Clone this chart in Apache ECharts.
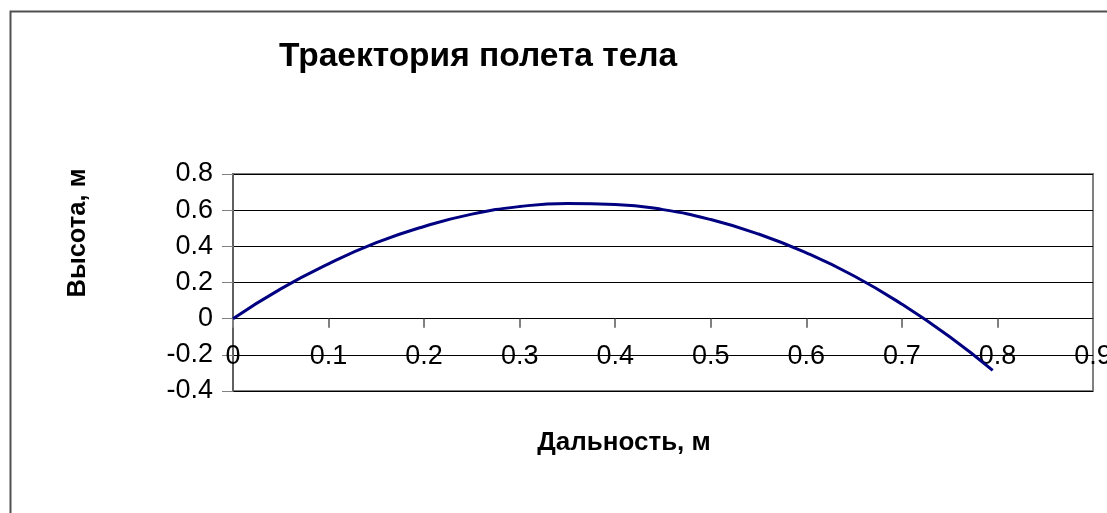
<!DOCTYPE html>
<html>
<head>
<meta charset="utf-8">
<script src="https://cdn.jsdelivr.net/npm/echarts@6/dist/echarts.min.js"></script>
<style>
html,body{margin:0;padding:0;background:#fff;}
#chart{width:1107px;height:513px;}
</style>
</head>
<body>
<div id="chart"></div>
<script>
var titleText = 'Траектория полета тела';
var xName = 'Дальность, м';
var yName = 'Высота, м';
var distance = [0, 0.05, 0.1, 0.15, 0.2, 0.25, 0.3, 0.35, 0.4, 0.45, 0.5, 0.55, 0.6, 0.65, 0.7, 0.75, 0.795];
var height = [0, 0.165, 0.303, 0.42, 0.51, 0.578, 0.62, 0.637, 0.632, 0.603, 0.548, 0.468, 0.364, 0.236, 0.08, -0.1, -0.286];
var xTicks = {min: 0, max: 0.9, interval: 0.1};
var yTicks = {min: -0.4, max: 0.8, interval: 0.2};

var FONT = '"Liberation Sans", Arial, sans-serif';
var points = distance.map(function (x, i) { return [x, height[i]]; });

var gridTop = 174, gridBottom = 122, chartH = 513;
var plotH = chartH - gridTop - gridBottom;
// distance of the zero line above the plot's bottom edge, from the y scale
var zeroOffset = plotH * (0 - yTicks.min) / (yTicks.max - yTicks.min);

var chart = echarts.init(document.getElementById('chart'), null, {renderer: 'canvas'});
chart.setOption({
  animation: false,
  backgroundColor: '#fff',
  title: {
    text: titleText,
    left: 274, top: 35,
    textStyle: {fontFamily: FONT, fontSize: 33.5, fontWeight: 'bold', color: '#000'}
  },
  grid: {
    left: 233, top: gridTop, right: 14, bottom: gridBottom,
    containLabel: false, outerBoundsMode: 'none',
    show: true, borderColor: '#808080', borderWidth: 2, backgroundColor: 'transparent'
  },
  xAxis: {
    type: 'value',
    min: xTicks.min, max: xTicks.max, interval: xTicks.interval,
    offset: -zeroOffset,
    axisLine: {show: true, onZero: false, lineStyle: {color: '#000', width: 1}},
    axisTick: {show: true, inside: false, length: 9, lineStyle: {color: '#808080', width: 2}},
    axisLabel: {
      margin: 24, fontFamily: FONT, fontSize: 27, color: '#000', hideOverlap: false,
      formatter: function (v) { return String(+v.toFixed(1)); }
    },
    splitLine: {show: false}
  },
  yAxis: {
    type: 'value',
    min: yTicks.min, max: yTicks.max, interval: yTicks.interval,
    axisLine: {show: true, onZero: false, lineStyle: {color: '#606060', width: 2}},
    axisTick: {show: true, inside: false, length: 11, lineStyle: {color: '#808080', width: 1}},
    axisLabel: {
      margin: 20, fontFamily: FONT, fontSize: 27, color: '#000',
      formatter: function (v) { return String(+v.toFixed(1)); }
    },
    splitLine: {show: true, lineStyle: {color: '#000', width: 1}}
  },
  graphic: [
    {type: 'rect', left: 8, top: 9, z: -10, silent: true,
      shape: {width: 1200, height: 600},
      style: {fill: 'none', stroke: '#505050', lineWidth: 2}},
    {type: 'text', x: 624, y: 443, silent: true,
      style: {text: xName, fontFamily: FONT, fontSize: 26, fontWeight: 'bold', fill: '#000',
        textAlign: 'center', textVerticalAlign: 'middle'}},
    {type: 'text', x: 78, y: 233, rotation: Math.PI / 2, silent: true,
      style: {text: yName, fontFamily: FONT, fontSize: 25.5, fontWeight: 'bold', fill: '#000',
        textAlign: 'center', textVerticalAlign: 'middle'}}
  ],
  series: [{
    type: 'line',
    data: points,
    smooth: true,
    showSymbol: false,
    lineStyle: {color: '#000080', width: 3},
    itemStyle: {color: '#000080'}
  }]
});
</script>
</body>
</html>
